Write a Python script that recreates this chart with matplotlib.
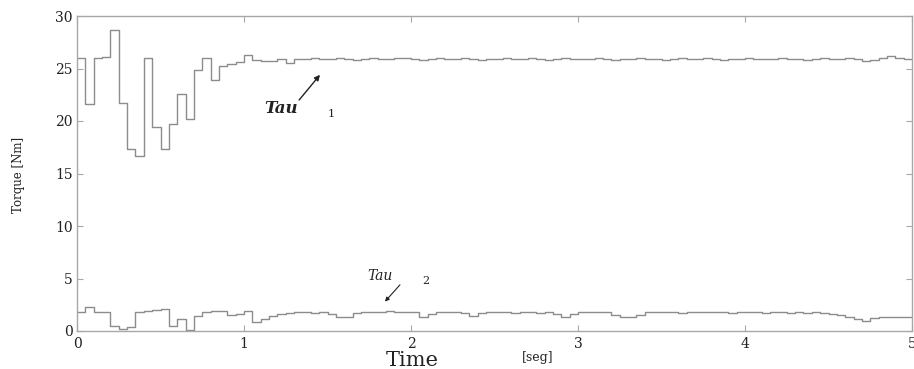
import numpy as np
import matplotlib
matplotlib.use("Agg")
import matplotlib.pyplot as plt

# Step-held torque samples (sample period 0.05 s)
DT = 0.05
tau1 = [
    26.0, 21.6, 26.0, 26.1, 28.7, 21.7, 17.3, 16.7, 26.0, 19.4,
    17.3, 19.7, 22.6, 20.2, 24.9, 26.0, 23.9, 25.2, 25.4, 25.6,
    26.3, 25.8, 25.7, 25.7, 25.9, 25.5, 25.9, 25.9, 26.0, 25.9,
    25.9, 26.0, 25.9, 25.8, 25.9, 26.0, 25.9, 25.9, 26.0, 26.0,
    25.9, 25.8, 25.9, 26.0, 25.9, 25.9, 26.0, 25.9, 25.8, 25.9,
    25.9, 26.0, 25.9, 25.9, 26.0, 25.9, 25.8, 25.9, 26.0, 25.9,
    25.9, 25.9, 26.0, 25.9, 25.8, 25.9, 25.9, 26.0, 25.9, 25.9,
    25.8, 25.9, 26.0, 25.9, 25.9, 26.0, 25.9, 25.8, 25.9, 25.9,
    26.0, 25.9, 25.9, 25.9, 26.0, 25.9, 25.9, 25.8, 25.9, 26.0,
    25.9, 25.9, 26.0, 25.9, 25.7, 25.8, 26.0, 26.2, 26.0, 25.9,
    25.9,
]
tau2 = [
    1.8, 2.3, 1.8, 1.8, 0.5, 0.2, 0.4, 1.8, 1.9, 2.0,
    2.1, 0.5, 1.1, 0.05, 1.4, 1.8, 1.9, 1.9, 1.5, 1.6,
    1.9, 0.9, 1.1, 1.4, 1.6, 1.7, 1.8, 1.8, 1.7, 1.8,
    1.6, 1.3, 1.3, 1.7, 1.8, 1.8, 1.8, 1.9, 1.8, 1.8,
    1.8, 1.3, 1.6, 1.8, 1.8, 1.8, 1.7, 1.4, 1.7, 1.8,
    1.8, 1.8, 1.7, 1.8, 1.8, 1.7, 1.8, 1.6, 1.3, 1.6,
    1.8, 1.8, 1.8, 1.8, 1.5, 1.3, 1.3, 1.5, 1.8, 1.8,
    1.8, 1.8, 1.7, 1.8, 1.8, 1.8, 1.8, 1.8, 1.7, 1.8,
    1.8, 1.8, 1.7, 1.8, 1.8, 1.7, 1.8, 1.7, 1.8, 1.7,
    1.6, 1.5, 1.3, 1.1, 1.0, 1.2, 1.3, 1.3, 1.3, 1.3,
    1.3,
]
x_ticks = [0, 1, 2, 3, 4, 5]
y_ticks = [0, 5, 10, 15, 20, 25, 30]

t = np.arange(len(tau1)) * DT

SERIF = "DejaVu Serif"
LINE = "#8c8c8c"
SPINE = "#a8a8a8"
INK = "#222222"

W, H = 914, 369
fig = plt.figure(figsize=(W / 100, H / 100), dpi=100)
ax = fig.add_axes([77 / W, 1 - 331 / H, (912 - 77) / W, (331 - 16) / H])

ax.step(t, tau1, where="post", color=LINE, lw=1.0)
ax.step(t, tau2, where="post", color=LINE, lw=1.0)

ax.set_xlim(0, 5)
ax.set_ylim(0, 30)
ax.set_xticks(x_ticks)
ax.set_yticks(y_ticks)
ax.set_xticklabels([str(v) for v in x_ticks], family=SERIF, fontsize=10, color=INK)
ax.set_yticklabels([str(v) for v in y_ticks], family=SERIF, fontsize=10, color=INK)
ax.tick_params(axis="both", direction="in", top=True, right=True,
               length=4, width=0.8, color=SPINE)
ax.tick_params(axis="x", pad=4)
ax.tick_params(axis="y", pad=3)
for sp in ax.spines.values():
    sp.set_color(SPINE)
    sp.set_linewidth(1.0)

# curve labels with arrows
ax.annotate("", xy=(1.455, 24.4), xytext=(1.33, 22.0),
            arrowprops=dict(arrowstyle="-|>", color=INK, lw=1.0,
                            mutation_scale=8, shrinkA=0, shrinkB=0))
ax.text(1.12, 20.8, "Tau", family=SERIF, fontsize=12, style="italic",
        weight="bold", color=INK, ha="left", va="baseline")
ax.text(1.50, 20.4, "1", family=SERIF, fontsize=8, color=INK,
        ha="left", va="baseline")

ax.annotate("", xy=(1.844, 2.8), xytext=(1.934, 4.4),
            arrowprops=dict(arrowstyle="-|>", color=INK, lw=0.8,
                            mutation_scale=6, shrinkA=0, shrinkB=0))
ax.text(1.74, 4.9, "Tau", family=SERIF, fontsize=10, style="italic",
        color=INK, ha="left", va="baseline")
ax.text(2.07, 4.5, "2", family=SERIF, fontsize=8, color=INK,
        ha="left", va="baseline")

fig.text(412 / W, 1 - 360 / H, "Time", family=SERIF, fontsize=15,
         color=INK, ha="center", va="center")
fig.text(538 / W, 1 - 357 / H, "[seg]", family=SERIF, fontsize=9,
         color=INK, ha="center", va="center")
fig.text(19 / W, 1 - 175 / H, "Torque [Nm]", family=SERIF, fontsize=8.5,
         color=INK, ha="center", va="center", rotation=90)

fig.savefig("out.png", dpi=100)
